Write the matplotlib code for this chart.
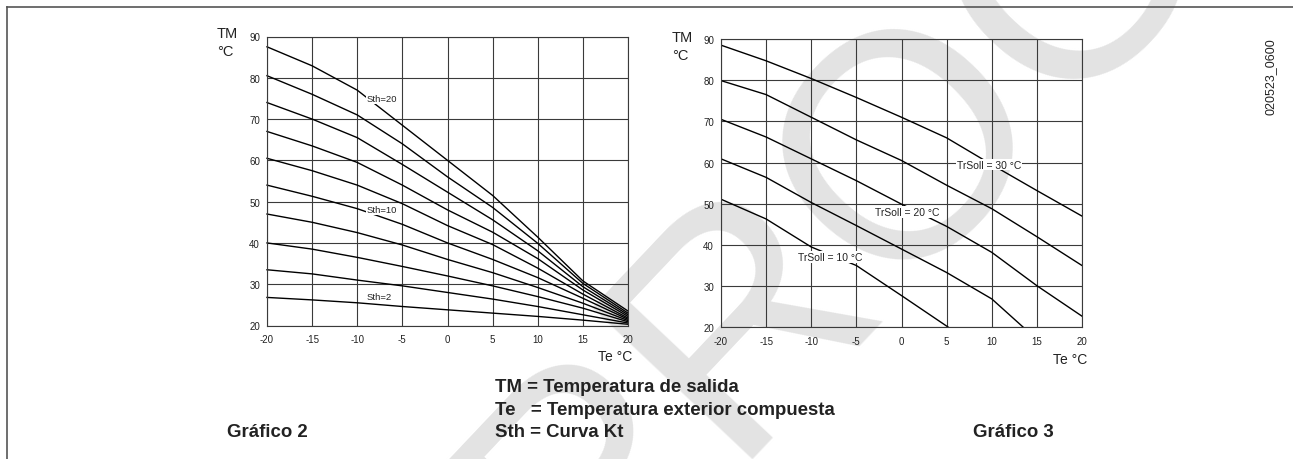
import matplotlib
matplotlib.use("Agg")
import matplotlib.pyplot as plt
from matplotlib.lines import Line2D

plt.rcParams['font.family'] = ['Liberation Sans', 'DejaVu Sans']
plt.rcParams['axes.unicode_minus'] = False

# outdoor temperature, degC
te = [-20, -15, -10, -5, 0, 5, 10, 15, 20]

# Grafico 2: flow temperature for each Sth curve
sth = [2, 4, 6, 8, 10, 12, 14, 16, 18, 20]
sth_curves = [
    [26.8, 26.2, 25.5, 24.6, 23.8, 23.0, 22.2, 21.3, 20.3],
    [33.5, 32.5, 31.0, 29.6, 28.0, 26.4, 24.6, 22.6, 20.6],
    [40.0, 38.5, 36.5, 34.3, 32.0, 29.6, 27.0, 24.2, 20.9],
    [47.0, 45.0, 42.5, 39.5, 36.0, 32.8, 29.2, 25.4, 21.2],
    [54.0, 51.3, 48.3, 44.5, 40.0, 36.0, 31.6, 26.6, 21.5],
    [60.5, 57.5, 54.0, 49.5, 44.2, 39.6, 33.9, 27.6, 21.8],
    [67.0, 63.5, 59.5, 54.0, 48.0, 42.6, 36.2, 28.6, 22.2],
    [74.0, 70.0, 65.5, 59.0, 52.3, 45.6, 38.1, 29.4, 22.6],
    [80.5, 76.0, 71.0, 64.0, 56.0, 48.6, 39.9, 30.2, 23.0],
    [87.5, 82.9, 77.0, 68.5, 60.0, 51.5, 41.4, 30.8, 23.5],
]
sth_labels = ["Sth=2", "Sth=10", "Sth=20"]
sth_label_pos = [(-7.6, 27.0), (-7.3, 48.0), (-7.3, 75.0)]

# Grafico 3: flow temperature for each TrSoll
trsoll = [30, 25, 20, 15, 10]
tr_te = [
    [-20, -15, -10, -5, 0, 5, 10, 15, 20],
    [-20, -15, -10, -5, 0, 5, 10, 15, 20],
    [-20, -15, -10, -5, 0, 5, 10, 15, 20],
    [-20, -15, -10, -5, 0, 5, 10, 13.5],
    [-20, -15, -10, -5, 0, 5.2],
]
tr_curves = [
    [88.5, 84.7, 80.4, 75.8, 71.0, 66.0, 59.5, 53.2, 47.0],
    [79.9, 76.5, 71.0, 65.5, 60.5, 54.5, 48.8, 42.0, 35.0],
    [70.5, 66.2, 60.9, 55.6, 49.9, 44.5, 38.2, 30.1, 22.7],
    [60.9, 56.4, 50.3, 44.7, 39.0, 33.3, 26.9, 20.0],
    [51.1, 46.3, 39.5, 35.0, 27.7, 20.0],
]
tr_labels = ["TrSoll = 30 °C", "TrSoll = 20 °C", "TrSoll = 10 °C"]
tr_label_pos = [(9.7, 59.5), (0.65, 48.0), (-7.9, 37.0)]

yticks = [20, 30, 40, 50, 60, 70, 80, 90]
xticks = [-20, -15, -10, -5, 0, 5, 10, 15, 20]

W, H = 1293, 460
fig = plt.figure(figsize=(W / 100, H / 100), dpi=100)
fig.patch.set_facecolor("white")


def ftext(x, y, s, **kw):
    # x, y in pixels from the top left corner
    return fig.text(x / W, 1 - y / H, s, **kw)


# big light grey watermark running diagonally behind the charts
ftext(971, 200, "PROOF", fontsize=230, color="#e3e3e3",
      rotation=46.6, rotation_mode="anchor", ha="center", va="baseline", zorder=-5)

gridc = "#3a3a3a"


def setup(ax):
    ax.set_facecolor("none")
    ax.set_xlim(-20, 20)
    ax.set_ylim(20, 90)
    ax.set_xticks(xticks)
    ax.set_yticks(yticks)
    ax.set_xticklabels([str(v) for v in xticks])
    ax.tick_params(length=0, labelsize=7, colors="#222222")
    ax.tick_params(axis="y", pad=5)
    ax.tick_params(axis="x", pad=6)
    ax.grid(True, color=gridc, lw=0.8)
    for s in ax.spines.values():
        s.set_color(gridc)
        s.set_linewidth(0.8)
    ax.set_axisbelow(True)


def px_axes(left, top, right, bottom):
    return fig.add_axes([left / W, 1 - bottom / H, (right - left) / W, (bottom - top) / H])


ax1 = px_axes(267, 37.5, 628, 326.5)
setup(ax1)
for vals in sth_curves:
    ax1.plot(te, vals, color="black", lw=1.0, clip_on=False)
for lab, (x, y) in zip(sth_labels, sth_label_pos):
    ax1.text(x, y, lab, fontsize=6.8, ha="center", va="center", color="#222222",
             bbox=dict(facecolor="white", edgecolor="none", pad=0.5))

ax2 = px_axes(721, 40, 1082, 328.3)
setup(ax2)
for xs, vals in zip(tr_te, tr_curves):
    ax2.plot(xs, vals, color="black", lw=1.0)
for lab, (x, y) in zip(tr_labels, tr_label_pos):
    ax2.text(x, y, lab, fontsize=7.5, ha="center", va="center", color="#222222",
             bbox=dict(facecolor="white", edgecolor="none", pad=0.6))

# axis captions
for x0, y0 in [(217, 34.5), (672, 38)]:
    ftext(x0, y0, "TM", fontsize=10.5, va="center", ha="left", color="#222222")
    ftext(x0, y0 + 18, "°C", fontsize=10.5, va="center", ha="left", color="#222222")
ftext(632, 357, "Te °C", fontsize=10, va="center", ha="right", color="#222222")
ftext(1087, 360, "Te °C", fontsize=10, va="center", ha="right", color="#222222")

# legend text
bold = dict(fontsize=13.4, fontweight="bold", va="center", ha="left", color="#222222")
ftext(495, 388, "TM = Temperatura de salida", **bold)
ftext(495, 411, "Te   = Temperatura exterior compuesta", **bold)
ftext(495, 433, "Sth = Curva Kt", **bold)
ftext(227, 433, "Gráfico 2", **bold)
ftext(973, 433, "Gráfico 3", **bold)

ftext(1271, 77, "020523_0600", fontsize=9, rotation=90, va="center", ha="center", color="#222222")

# page frame
fig.add_artist(Line2D([7 / W, 1], [1 - 8 / H, 1 - 8 / H], color="#555555", lw=1.2))
fig.add_artist(Line2D([7 / W, 7 / W], [1 - 8 / H, 0], color="#555555", lw=1.2))

fig.savefig("out.png", dpi=100, facecolor="white")
